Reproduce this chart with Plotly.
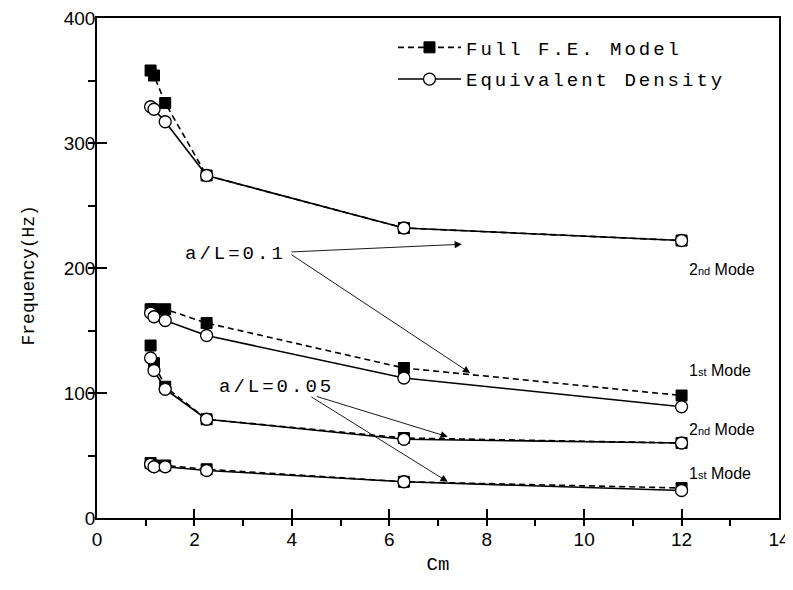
import plotly.graph_objects as go

# Cm values (x)
cm = [1.1, 1.17, 1.4, 2.25, 6.3, 12.0]

# a/L = 0.1
fe_2nd_01 = [358, 354, 332, 274, 232, 222]
ed_2nd_01 = [329, 327, 317, 274, 232, 222]
fe_1st_01 = [167, 167, 167, 156, 120, 98]
ed_1st_01 = [164, 161, 158, 146, 112, 89]

# a/L = 0.05
fe_2nd_005 = [138, 124, 105, 79, 64, 60]
ed_2nd_005 = [128, 118, 103, 79, 63, 60]
fe_1st_005 = [44, 42, 42, 39, 29, 24]
ed_1st_005 = [43, 41, 41, 38, 29, 22]

fe_series = [fe_2nd_01, fe_1st_01, fe_2nd_005, fe_1st_005]
ed_series = [ed_2nd_01, ed_1st_01, ed_2nd_005, ed_1st_005]

mode_labels = ["2<span style='font-size:11px'>nd</span> Mode",
               "1<span style='font-size:11px'>st</span> Mode",
               "2<span style='font-size:11px'>nd</span> Mode",
               "1<span style='font-size:11px'>st</span> Mode"]
mode_label_y = [199, 118, 71, 36]

MONO = "Liberation Mono, Courier New, monospace"
SANS = "Liberation Sans, Arial, sans-serif"

def spaced(t, s=3.0):
    return "<span style='letter-spacing:%spx'>%s</span>" % (s, t)

fig = go.Figure()

for i, ys in enumerate(fe_series):
    fig.add_trace(go.Scatter(
        x=cm, y=ys, mode="lines+markers",
        line=dict(color="black", width=1.6, dash="6px,4px"),
        marker=dict(symbol="square", size=11, color="black",
                    line=dict(color="black", width=1)),
        name=spaced("Full F.E. Model"), legendgroup="fe",
        showlegend=(i == 0)))

for i, ys in enumerate(ed_series):
    fig.add_trace(go.Scatter(
        x=cm, y=ys, mode="lines+markers",
        line=dict(color="black", width=1.6),
        marker=dict(symbol="circle", size=12, color="white",
                    line=dict(color="black", width=1.3)),
        name=spaced("Equivalent Density"), legendgroup="ed",
        showlegend=(i == 0)))

annotations = []
for lab, yy in zip(mode_labels, mode_label_y):
    annotations.append(dict(x=12.11, y=yy, xref="x", yref="y", text=lab,
                            showarrow=False, xanchor="left", yanchor="middle",
                            font=dict(family=SANS, size=16, color="black")))

annotations.append(dict(x=3.92, y=211, xref="x", yref="y", text=spaced("a/L=0.1"),
                        showarrow=False, xanchor="right", yanchor="middle",
                        font=dict(family=MONO, size=19, color="black")))
annotations.append(dict(x=2.46, y=105, xref="x", yref="y", text=spaced("a/L=0.05"),
                        showarrow=False, xanchor="left", yanchor="middle",
                        font=dict(family=MONO, size=19, color="black")))

# y-axis title as an annotation so it can sit close to the page edge
annotations.append(dict(x=0, y=0.485, xref="paper", yref="paper", text="Frequency(Hz)",
                        textangle=-90, showarrow=False, xanchor="center", yanchor="middle",
                        xshift=-69, font=dict(family=MONO, size=18, color="black")))

arrows = [((3.96, 212.8), (7.49, 219)),
          ((3.96, 211.5), (7.66, 116)),
          ((4.48, 97.6), (7.2, 65)),
          ((4.37, 97.6), (7.2, 29))]
for (tx, ty), (hx, hy) in arrows:
    annotations.append(dict(x=hx, y=hy, ax=tx, ay=ty, xref="x", yref="y",
                            axref="x", ayref="y", text="", showarrow=True,
                            arrowhead=2, arrowsize=1.6, arrowwidth=0.9,
                            arrowcolor="black", standoff=0, startstandoff=0))

# page body has an 8px margin, so the figure is sized/offset to compensate
fig.update_layout(
    width=785, height=582,
    margin=dict(l=89, r=14, t=10, b=72, autoexpand=False),
    paper_bgcolor="white", plot_bgcolor="white",
    showlegend=True,
    legend=dict(x=0.434, y=0.979, xanchor="left", yanchor="top",
                bgcolor="rgba(0,0,0,0)", borderwidth=0,
                font=dict(family=MONO, size=19, color="black"),
                itemwidth=63, tracegroupgap=4),
    annotations=annotations,
)

fig.update_xaxes(
    range=[0, 14], dtick=2, tick0=0, showgrid=False, zeroline=False,
    showline=True, linecolor="black", linewidth=1.6, mirror=True,
    automargin=False, ticklabeloverflow="allow",
    ticks="inside", ticklen=9, tickwidth=1.5, tickcolor="black",
    ticklabelstandoff=3,
    minor=dict(dtick=1, ticks="outside", ticklen=6, tickwidth=1.5, tickcolor="black"),
    tickfont=dict(family=SANS, size=19, color="black"),
    title=dict(text="Cm", font=dict(family=MONO, size=19, color="black"), standoff=8),
)
fig.update_yaxes(
    range=[0, 400], dtick=100, tick0=0, showgrid=False, zeroline=False,
    showline=True, linecolor="black", linewidth=1.6, mirror=True,
    automargin=False, ticklabeloverflow="allow",
    ticks="inside", ticklen=10, tickwidth=1.5, tickcolor="black",
    ticklabelstandoff=-4,
    minor=dict(dtick=50, ticks="outside", ticklen=7, tickwidth=1.5, tickcolor="black"),
    tickfont=dict(family=SANS, size=19, color="black"),
)

fig.write_html("out.html")
